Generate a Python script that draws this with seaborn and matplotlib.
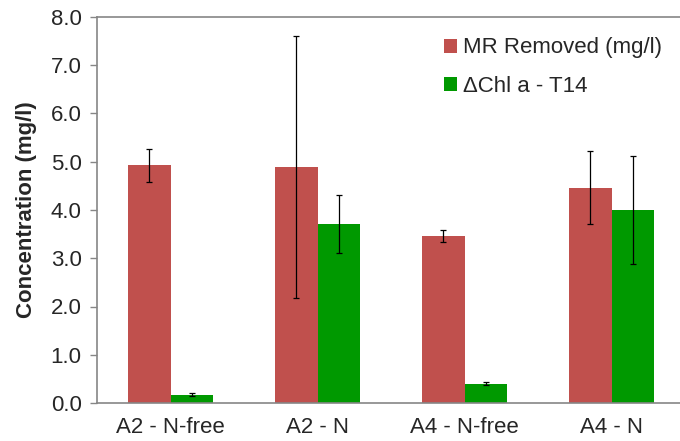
import matplotlib
matplotlib.use("Agg")
import matplotlib.pyplot as plt
import seaborn as sns
import pandas as pd
import numpy as np
from matplotlib.patches import Patch

categories = ["A2 - N-free", "A2 - N", "A4 - N-free", "A4 - N"]
series_names = ["MR Removed (mg/l)", "\u0394Chl a - T14"]
mr_values = [4.93, 4.89, 3.46, 4.46]
mr_errors = [0.34, 2.72, 0.12, 0.76]
chl_values = [0.17, 3.71, 0.40, 4.00]
chl_errors = [0.03, 0.60, 0.03, 1.11]
y_ticks = [0.0, 1.0, 2.0, 3.0, 4.0, 5.0, 6.0, 7.0, 8.0]
colors = ["#C0504D", "#009900"]

sns.set_style("white")
plt.rcParams["font.family"] = ["Liberation Sans", "DejaVu Sans"]

df = pd.DataFrame({
    "cat": categories * 2,
    "series": [series_names[0]] * 4 + [series_names[1]] * 4,
    "value": mr_values + chl_values,
})

fig = plt.figure(figsize=(6.8, 4.41), dpi=100)
ax = fig.add_axes([97 / 680, 38 / 441, 583 / 680, 386 / 441])
sns.barplot(data=df, x="cat", y="value", hue="series", order=categories,
            hue_order=series_names, palette=colors, width=0.58,
            errorbar=None, saturation=1, ax=ax, legend=False, linewidth=0)

errs = mr_errors + chl_errors
vals = mr_values + chl_values
patches = [p for p in ax.patches]
for p, v, e in zip(patches, vals, errs):
    xc = p.get_x() + p.get_width() / 2
    ax.errorbar(xc, v, yerr=e, fmt="none", ecolor="black", elinewidth=0.9,
                capsize=2.5, capthick=0.9)

FS = 16
ax.set_ylim(0, 8)
ax.set_xlim(-0.5, -0.5 + 583 / 147)
ax.set_yticks(y_ticks)
ax.set_yticklabels([f"{t:.1f}" for t in y_ticks], fontsize=FS)
ax.set_xticks(range(len(categories)))
ax.set_xticklabels(categories, fontsize=FS)
ax.set_xticks([0.5, 1.5, 2.5], minor=True)
ax.tick_params(axis="x", which="major", length=0, pad=10)
ax.tick_params(axis="x", which="minor", length=5, color="#868686", width=1, direction="out")
ax.tick_params(axis="y", length=5, color="#868686", width=1, direction="out", pad=6, left=True)
ax.set_xlabel("")
ax.set_ylabel("Concentration (mg/l)", fontsize=FS, fontweight="bold", labelpad=10)

for s in ["left", "bottom", "top"]:
    ax.spines[s].set_color("#868686")
    ax.spines[s].set_linewidth(1.2)
ax.spines["right"].set_visible(False)

handles = [Patch(facecolor=c, edgecolor="none") for c in colors]
ax.legend(handles, series_names, loc="upper left", bbox_to_anchor=(0.595, 0.947),
          frameon=False, fontsize=FS, handlelength=0.6, handleheight=0.6,
          handletextpad=0.25, labelspacing=0.8, borderpad=0, borderaxespad=0)

fig.savefig("out.png", dpi=100)
